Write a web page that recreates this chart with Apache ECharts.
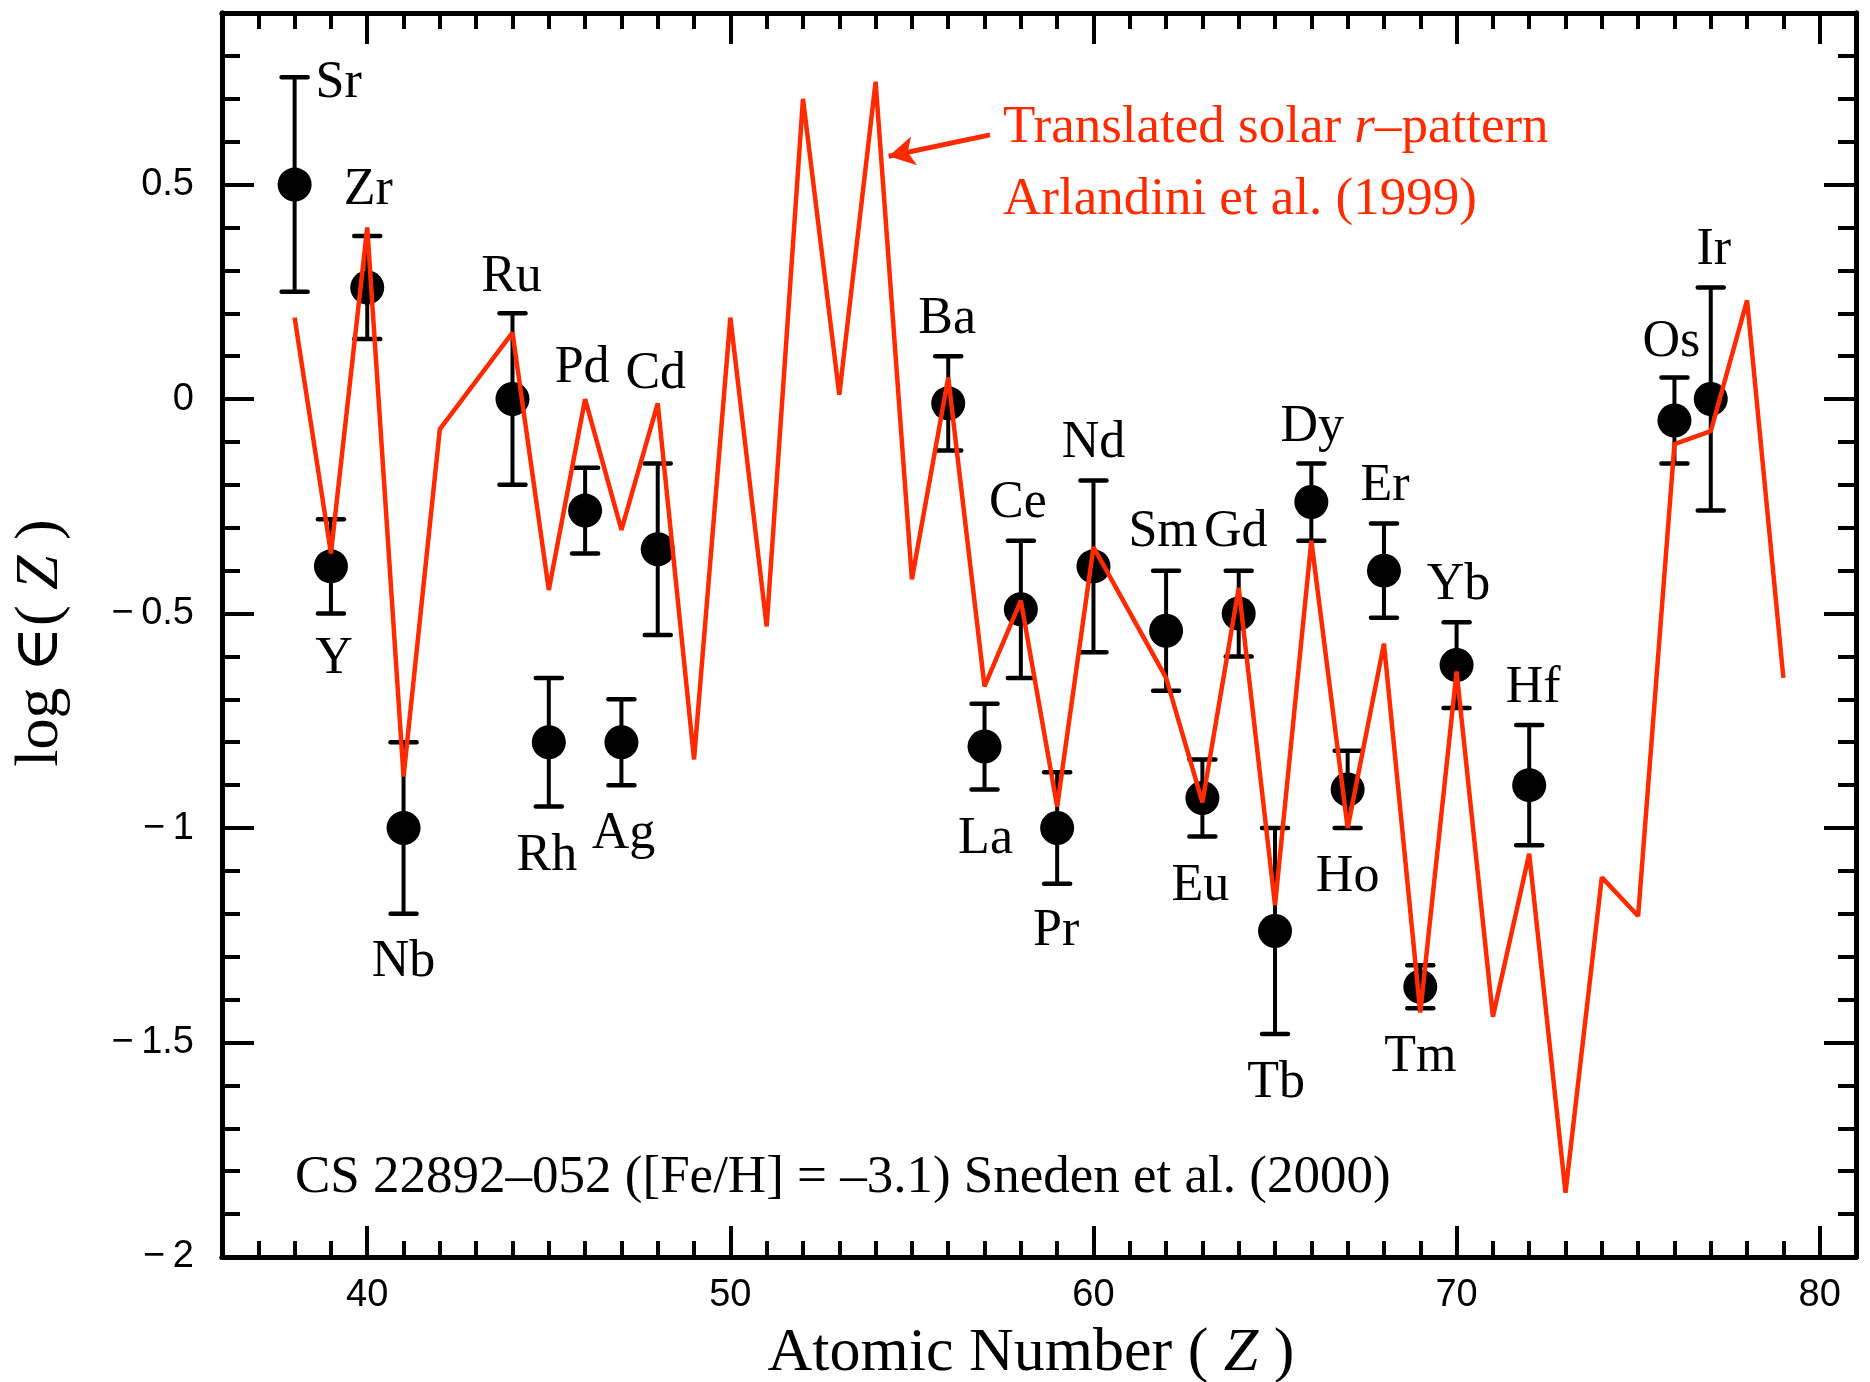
<!DOCTYPE html>
<html>
<head>
<meta charset="utf-8">
<title>CS 22892-052 abundances</title>
<script src="https://cdn.jsdelivr.net/npm/echarts@6/dist/echarts.min.js"></script>
<style>
  html, body { margin: 0; padding: 0; background: #fff; }
  #chart { width: 1870px; height: 1382px; }
</style>
</head>
<body>
<div id="chart"></div>
<script>
// observed abundances (Sneden et al. 2000)
const elements = ['Sr','Y','Zr','Nb','Ru','Rh','Pd','Ag','Cd','Ba','La','Ce','Pr','Nd','Sm','Eu','Gd','Tb','Dy','Ho','Er','Tm','Yb','Hf','Os','Ir'];
const atomicZ  = [38, 39, 40, 41, 44, 45, 46, 47, 48, 56, 57, 58, 59, 60, 62, 63, 64, 65, 66, 67, 68, 69, 70, 72, 76, 77];
const logEps   = [0.50, -0.39, 0.26, -1.00, 0.00, -0.80, -0.26, -0.80, -0.35, -0.01, -0.81, -0.49, -1.00, -0.39, -0.54, -0.93, -0.50, -1.24, -0.24, -0.91, -0.40, -1.37, -0.62, -0.90, -0.05, 0.00];
const errLow   = [0.25, -0.50, 0.14, -1.20, -0.20, -0.95, -0.36, -0.90, -0.55, -0.12, -0.91, -0.65, -1.13, -0.59, -0.68, -1.02, -0.60, -1.48, -0.33, -1.00, -0.51, -1.42, -0.72, -1.04, -0.15, -0.26];
const errHigh  = [0.75, -0.28, 0.38, -0.80, 0.20, -0.65, -0.16, -0.70, -0.15, 0.10, -0.71, -0.33, -0.87, -0.19, -0.40, -0.84, -0.40, -1.00, -0.15, -0.82, -0.29, -1.32, -0.52, -0.76, 0.05, 0.26];

// translated solar r-pattern (Arlandini et al. 1999); Tc (43) and Pm (61) absent
const solarZ      = [38, 39, 40, 41, 42, 44, 45, 46, 47, 48, 49, 50, 51, 52, 53, 54, 55, 56, 57, 58, 59, 60, 62, 63, 64, 65, 66, 67, 68, 69, 70, 71, 72, 73, 74, 75, 76, 77, 78, 79];
const solarLogEps = [0.19, -0.36, 0.40, -0.88, -0.07, 0.155, -0.445, 0.00, -0.305, -0.01, -0.84, 0.19, -0.53, 0.70, 0.01, 0.74, -0.42, 0.05, -0.67, -0.47, -0.95, -0.345, -0.65, -0.94, -0.44, -1.18, -0.33, -1.00, -0.57, -1.43, -0.635, -1.44, -1.06, -1.85, -1.115, -1.205, -0.105, -0.075, 0.23, -0.65];

const xTicks = [40, 50, 60, 70, 80];
const yTicks = [-2, -1.5, -1, -0.5, 0, 0.5];

// pixel offsets of each element name from its dot
const labelOffsets = [[44,-101],[3,93],[1,-97],[0,134],[-1,-122],[-2,114],[-3,-142],[2,92],[-2,-175],[-1,-84],[1,93],[-3,-106],[-1,103],[0,-123],[-3,-98],[-2,88],[-3,-81],[1,152],[1,-75],[0,88],[1,-84],[0,71],[2,-80],[4,-97],[-3,-78],[3,-149]];

const RED = '#ff2a00';
const SERIF = '"Liberation Serif", "DejaVu Serif", serif';
const SANS = '"Liberation Sans", Arial, sans-serif';

const chart = echarts.init(document.getElementById('chart'));

const tickLine = {lineStyle: {color: '#000', width: 4}};
function xAxisCfg(pos, major, labels) {
  return {
    type: 'value', position: pos, min: 36, max: 81, interval: 1,
    axisLine: {show: true, onZero: false, lineStyle: {color: '#000', width: 5}},
    axisTick: major
      ? Object.assign({inside: true, length: 31, customValues: xTicks}, tickLine)
      : Object.assign({inside: true, length: 16}, tickLine),
    axisLabel: labels
      ? {show: true, customValues: xTicks, margin: 20, color: '#000', fontFamily: SANS, fontSize: 38}
      : {show: false},
    splitLine: {show: false}
  };
}
function yAxisCfg(pos, major, labels) {
  return {
    type: 'value', position: pos, min: -2, max: 0.9, interval: 0.1,
    axisLine: {show: true, onZero: false, lineStyle: {color: '#000', width: 5}},
    axisTick: major
      ? Object.assign({inside: true, length: 32, customValues: yTicks}, tickLine)
      : Object.assign({inside: true, length: 18}, tickLine),
    axisLabel: labels
      ? {show: true, customValues: yTicks, margin: 28, color: '#000', fontFamily: SANS, fontSize: 38,
         formatter: v => (v < 0 ? '\u2212\u2009' + Math.abs(v) : String(v))}
      : {show: false},
    splitLine: {show: false}
  };
}

const nameStyle = {
  rich: {
    n: {fontFamily: SERIF, fontSize: 62, color: '#000'},
    i: {fontFamily: SERIF, fontSize: 62, color: '#000', fontStyle: 'italic'}
  }
};
const xMain = xAxisCfg('bottom', false, true);
xMain.name = '{n|Atomic Number ( }{i|Z}{n| )}';
xMain.nameLocation = 'middle';
xMain.nameGap = 66;
xMain.nameTextStyle = Object.assign({padding: [0, 16, 0, 0]}, nameStyle);
const yMain = yAxisCfg('left', false, true);
yMain.name = '{n|log \u2208( }{i|Z}{n| )}';
yMain.nameLocation = 'middle';
yMain.nameGap = 150;
yMain.nameTextStyle = Object.assign({padding: [0, 16, 0, 0]}, nameStyle);

const obsData = atomicZ.map((z, i) => ({
  name: elements[i],
  value: [z, logEps[i]],
  label: {offset: labelOffsets[i]}
}));
const errData = atomicZ.map((z, i) => [z, errLow[i], errHigh[i]]);
const solarData = solarZ.map((z, i) => [z, solarLogEps[i]]);

function renderErr(params, api) {
  const x = api.value(0);
  const lo = api.coord([x, api.value(1)]);
  const hi = api.coord([x, api.value(2)]);
  const hw = 13;
  const style = {stroke: '#000', lineWidth: 4.5, lineCap: 'round'};
  return {
    type: 'group',
    children: [
      {type: 'line', shape: {x1: lo[0], y1: lo[1], x2: hi[0], y2: hi[1]}, style: {stroke: '#000', lineWidth: 4}},
      {type: 'line', shape: {x1: lo[0] - hw, y1: lo[1], x2: lo[0] + hw, y2: lo[1]}, style: style},
      {type: 'line', shape: {x1: hi[0] - hw, y1: hi[1], x2: hi[0] + hw, y2: hi[1]}, style: style}
    ]
  };
}

const option = {
  animation: false,
  backgroundColor: '#fff',
  grid: {left: 222, right: 14, top: 13, bottom: 125, containLabel: false, outerBoundsMode: 'none'},
  xAxis: [
    xMain,
    xAxisCfg('bottom', true, false),
    xAxisCfg('top', false, false),
    xAxisCfg('top', true, false)
  ],
  yAxis: [
    yMain,
    yAxisCfg('left', true, false),
    yAxisCfg('right', false, false),
    yAxisCfg('right', true, false)
  ],
  graphic: [
    {
      type: 'text', left: 1003, top: 102, z: 10,
      style: {
        text: '{a|Translated solar }{i|r}{a|\u2013pattern}',
        rich: {
          a: {fontFamily: SERIF, fontSize: 53, fill: RED},
          i: {fontFamily: SERIF, fontSize: 53, fill: RED, fontStyle: 'italic'}
        }
      }
    },
    {
      type: 'text', left: 1003, top: 174, z: 10,
      style: {text: 'Arlandini et al. (1999)', fontFamily: SERIF, fontSize: 53, fill: RED}
    },
    {
      type: 'text', left: 295, top: 1152, z: 10,
      style: {text: 'CS 22892\u2013052 ([Fe/H] = \u20133.1) Sneden et al. (2000)', fontFamily: SERIF, fontSize: 53, fill: '#000'}
    }
  ],
  series: [
    {
      type: 'custom',
      name: 'errors',
      renderItem: renderErr,
      data: errData,
      encode: {x: 0, y: [1, 2]},
      z: 2,
      silent: true
    },
    {
      type: 'scatter',
      name: 'observed',
      data: obsData,
      symbol: 'circle',
      symbolSize: 34,
      itemStyle: {color: '#000', opacity: 1},
      label: {
        show: true,
        position: 'inside',
        formatter: '{b}',
        color: '#000',
        opacity: 1,
        fontFamily: SERIF,
        fontSize: 52,
        align: 'center',
        verticalAlign: 'middle'
      },
      z: 3
    },
    {
      type: 'line',
      name: 'solar r-pattern',
      data: solarData,
      showSymbol: false,
      symbol: 'none',
      lineStyle: {color: RED, width: 4.5},
      z: 4,
      markLine: {
        silent: true,
        symbol: ['none', 'arrow'],
        symbolSize: [22, 26],
        label: {show: false},
        lineStyle: {color: RED, width: 5, type: 'solid'},
        data: [[{coord: [57.15, 0.616]}, {coord: [54.36, 0.566]}]]
      }
    }
  ]
};
chart.setOption(option);
</script>
</body>
</html>
